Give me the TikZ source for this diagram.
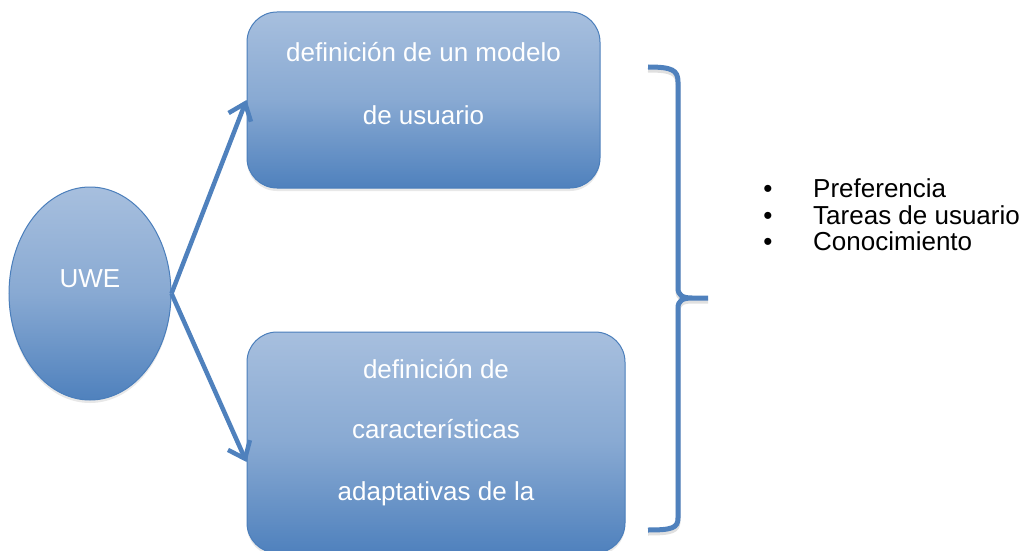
\documentclass[tikz,border=0pt]{standalone}
\usepackage{fontspec}
\setmainfont{Liberation Sans}
\usetikzlibrary{shapes.geometric,arrows.meta,shadows}
\definecolor{lt}{RGB}{167,191,222}
\definecolor{dk}{RGB}{79,129,189}
\definecolor{edge}{RGB}{74,126,187}
\begin{document}
\begin{tikzpicture}[x=1pt,y=-1pt,
  shp/.style={draw=edge, line width=1pt, top color=lt, bottom color=dk, middle color=lt!65!dk,
    drop shadow={shadow xshift=0pt,shadow yshift=-3pt,opacity=0.18}},
  box/.style={shp, rectangle, rounded corners=30pt, inner sep=0pt},
  oval/.style={shp, ellipse, inner sep=0pt},
  wt/.style={text=white, font=\fontsize{26}{30}\selectfont, anchor=base, inner sep=0pt},
  bk/.style={text=black, font=\fontsize{26}{30}\selectfont, anchor=base west, inner sep=0pt},
  bul/.style={text=black, font=\fontsize{26}{30}\selectfont, anchor=base, inner sep=0pt},
  arr/.style={draw=dk, line width=4.5pt, -{Straight Barb[length=15pt,width=24pt]}, line join=round},
  bracestyle/.style={draw=dk, line width=5pt, line join=round}]
\useasboundingbox (0,0) rectangle (1031,551);
\clip (0,0) rectangle (1031,551);

% shapes
\node[box, minimum width=353pt, minimum height=176pt] (top) at (423.5,100) {};
\node[box, minimum width=378pt, minimum height=221pt] (bot) at (436,442.5) {};
\node[oval, minimum width=162pt, minimum height=213pt] (uwe) at (90,293.5) {};

% texts
\node[wt] (uwet) at (90,287.5) {UWE};
\node[wt] (t1) at (423.5,62) {definición de un modelo};
\node[wt] (t2) at (423.5,124) {de usuario};
\node[wt] (b1) at (436,378) {definición de};
\node[wt] (b2) at (436,438) {características};
\node[wt] (b3) at (436,500) {adaptativas de la};

% arrows
\draw[arr] (uwe.east) -- (top.west);
\draw[arr] (uwe.east) -- ([yshift=-19.5pt]bot.west);

% brace (shadow + brace)
\draw[bracestyle, draw=black, opacity=0.12, yshift=-3pt]
  (648,67) .. controls (672,67) and (678,70) .. (678,82) -- (678,288)
  .. controls (678,295) and (682,298) .. (692,298) -- (708,298)
  (692,298) .. controls (682,298) and (678,301) .. (678,308) -- (678,518)
  .. controls (678,528) and (672,530) .. (648,530);
\draw[bracestyle]
  (648,67) .. controls (672,67) and (678,70) .. (678,82) -- (678,288)
  .. controls (678,295) and (682,298) .. (692,298) -- (708,298)
  (692,298) .. controls (682,298) and (678,301) .. (678,308) -- (678,518)
  .. controls (678,528) and (672,530) .. (648,530);

% list
\node[bul] (u1) at (768,197) {•};
\node[bul] (u2) at (768,224) {•};
\node[bul] (u3) at (768,250) {•};
\node[bk] (l1) at (813,197) {Preferencia};
\node[bk] (l2) at (813,224) {Tareas de usuario};
\node[bk] (l3) at (813,250) {Conocimiento};
\end{tikzpicture}
\end{document}
